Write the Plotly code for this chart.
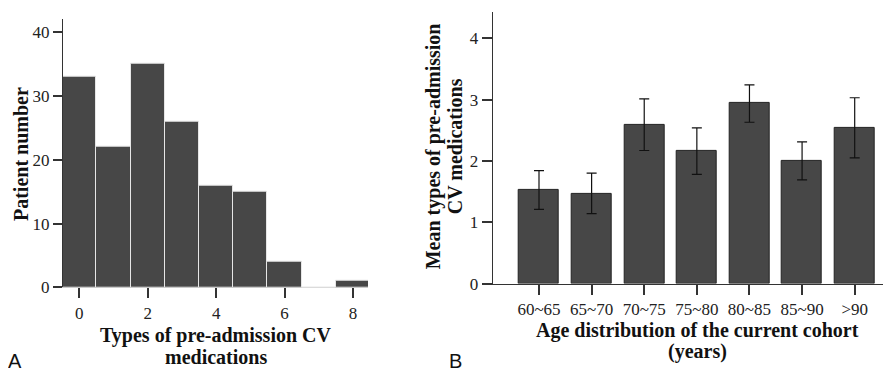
import plotly.graph_objects as go

# Panel A data
med_types = [0, 1, 2, 3, 4, 5, 6, 7, 8]
patient_counts = [33, 22, 35, 26, 16, 15, 4, 0, 1]

# Panel B data
age_groups = ["60~65", "65~70", "70~75", "75~80", "80~85", "85~90", ">90"]
mean_types = [1.52, 1.47, 2.59, 2.17, 2.94, 2.00, 2.54]
err_upper = [0.32, 0.33, 0.42, 0.37, 0.30, 0.31, 0.49]
err_lower = [0.31, 0.33, 0.42, 0.39, 0.31, 0.31, 0.49]

W, H = 891, 380
OFF = 8  # page body margin
BAR = "#474747"
AX = "#333333"
SERIF = "Liberation Serif, Times New Roman, serif"

def fx(px):
    return (px - OFF) / W

def fy(py):
    return (H - (py - OFF)) / H

fig = go.Figure()

fig.add_trace(go.Bar(
    x=med_types, y=patient_counts, width=1.0,
    marker=dict(color=BAR, line=dict(color="#e6e6e6", width=1)),
    xaxis="x", yaxis="y", showlegend=False,
))

fig.add_trace(go.Bar(
    x=list(range(len(age_groups))), y=mean_types, width=0.76,
    marker=dict(color=BAR, line=dict(color="#222222", width=1)),
    error_y=dict(type="data", symmetric=False, array=err_upper, arrayminus=err_lower,
                 color="#111111", thickness=1.2, width=5),
    xaxis="x2", yaxis="y2", showlegend=False,
))

tickfont = dict(family=SERIF, size=17, color="#222222")

fig.update_layout(
    width=W, height=H,
    margin=dict(l=0, r=0, t=0, b=0),
    paper_bgcolor="white", plot_bgcolor="white",
    bargap=0,
    xaxis=dict(domain=[fx(63), fx(368)], range=[-0.477, 8.44],
               tickmode="array", tickvals=[0, 2, 4, 6, 8],
               ticks="outside", ticklen=10, tickcolor=AX, tickwidth=1.5,
               showline=True, linecolor="#cccccc", linewidth=1, layer="below traces",
               showgrid=False, zeroline=False, tickfont=tickfont, anchor="y"),
    yaxis=dict(domain=[fy(295), fy(19)], range=[0, 42.1],
               tickmode="array", tickvals=[0, 10, 20, 30, 40],
               ticks="outside", ticklen=9, tickcolor=AX, tickwidth=1.5,
               showline=True, linecolor=AX, linewidth=1.2,
               showgrid=False, zeroline=False, tickfont=tickfont, anchor="x"),
    xaxis2=dict(domain=[fx(492.7), fx(891)], range=[-0.88, 6.69],
                tickmode="array", tickvals=list(range(len(age_groups))), ticktext=age_groups,
                ticks="outside", ticklen=10, tickcolor=AX, tickwidth=1.5,
                showline=True, linecolor=AX, linewidth=1.2,
                showgrid=False, zeroline=False, tickfont=tickfont, anchor="y2"),
    yaxis2=dict(domain=[fy(291), fy(12)], range=[0, 4.43],
                tickmode="array", tickvals=[0, 1, 2, 3, 4],
                ticks="outside", ticklen=10, tickcolor=AX, tickwidth=1.5,
                showline=True, linecolor=AX, linewidth=1.2,
                showgrid=False, zeroline=False, tickfont=tickfont, anchor="x2"),
)

titlefont = dict(family=SERIF, size=20, color="#111111")

ann = [
    dict(text="<b>Patient number</b>", x=fx(21), y=fy(158), textangle=-90),
    dict(text="<b>Types of pre-admission CV</b>", x=fx(216), y=fy(344)),
    dict(text="<b>medications</b>", x=fx(216), y=fy(366)),
    dict(text="<b>Mean types of pre-admission</b>", x=fx(433), y=fy(150), textangle=-90),
    dict(text="<b>CV medications</b>", x=fx(455), y=fy(150), textangle=-90),
    dict(text="<b>Age distribution of the current cohort</b>", x=fx(697), y=fy(339)),
    dict(text="<b>(years)</b>", x=fx(697), y=fy(361)),
]
for a in ann:
    fig.add_annotation(xref="paper", yref="paper", showarrow=False, xanchor="center",
                       yanchor="middle", font=titlefont, **a)

for lab, xp in [("A", 15), ("B", 455)]:
    fig.add_annotation(text=lab, xref="paper", yref="paper", x=fx(xp), y=fy(371),
                       showarrow=False, xanchor="center", yanchor="middle",
                       font=dict(family="Liberation Sans, Arial, sans-serif", size=20, color="#111111"))

fig.write_html("out.html")
